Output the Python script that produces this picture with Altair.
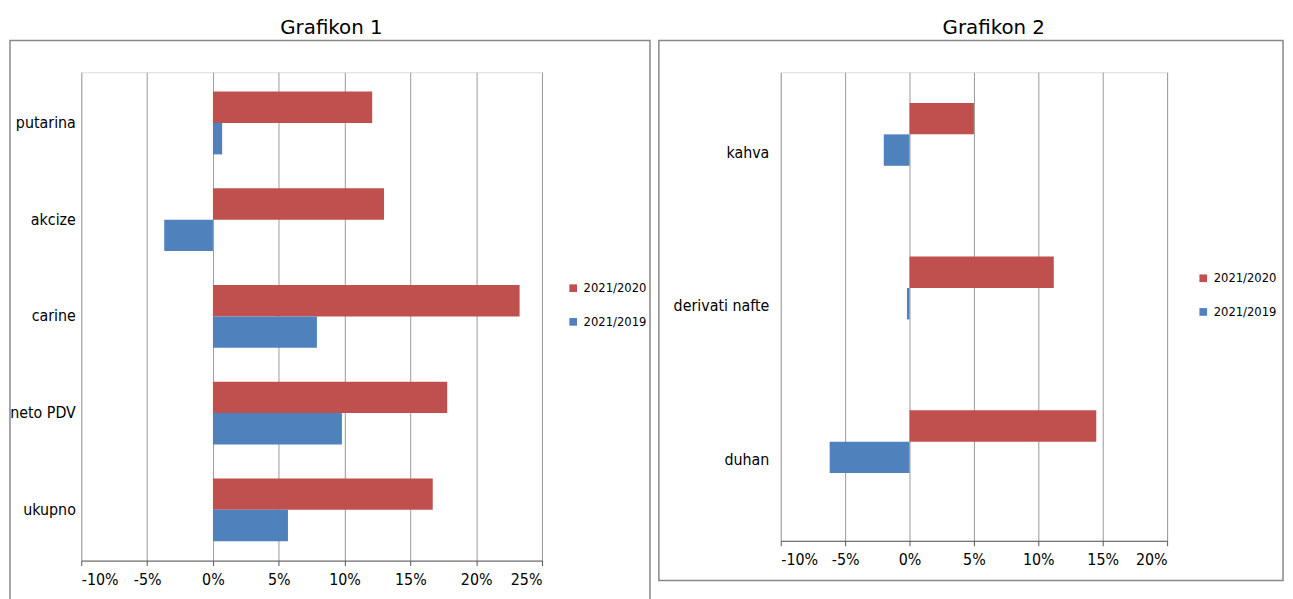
import altair as alt
import pandas as pd

series = ["2021/2020", "2021/2019"]
colors = ["#C0504D", "#4F81BD"]

cat1 = ["putarina", "akcize", "carine", "neto PDV", "ukupno"]
v1_2020 = [0.121, 0.130, 0.233, 0.178, 0.167]
v1_2019 = [0.007, -0.037, 0.079, 0.098, 0.057]

cat2 = ["kahva", "derivati nafte", "duhan"]
v2_2020 = [0.050, 0.112, 0.145]
v2_2019 = [-0.020, -0.002, -0.062]

def make_df(cats, a, b):
    rows = []
    for c, x, y in zip(cats, a, b):
        rows.append({"cat": c, "s": series[0], "v": x})
        rows.append({"cat": c, "s": series[1], "v": y})
    return pd.DataFrame(rows)

FONT = "DejaVu Sans Condensed"

def panel(df, cats, dom, w, h, title, legx, fx0, fx2, lp):
    n = int(round((dom[1] - dom[0]) / 0.05))
    base = alt.Chart(df).encode(
        y=alt.Y("cat:N", sort=cats, title=None,
                scale=alt.Scale(paddingInner=0.35, paddingOuter=0.2),
                axis=alt.Axis(labelFont=FONT, labelFontSize=16, labelColor="black",
                              domain=False, ticks=False, labelPadding=lp)),
    )
    bars = base.mark_bar().encode(
        x=alt.X("v:Q", title=None, scale=alt.Scale(domain=dom, nice=False),
                axis=alt.Axis(format=".0%", values=[round(dom[0] + 0.05*i, 2) for i in range(n+1)],
                              labelExpr="replace(datum.label, '\u2212', '-')",
                              labelOverlap=False,
                              labelFont=FONT, labelFontSize=16, labelColor="black",
                              grid=True, gridColor="#999999", domainColor="#555555",
                              tickColor="#555555", labelPadding=6)),
        yOffset=alt.YOffset("s:N", sort=series),
        color=alt.Color("s:N", sort=series,
                        scale=alt.Scale(domain=series, range=colors),
                        legend=alt.Legend(title=None, orient="none", legendX=legx, legendY=h/2-35,
                                          labelFont=FONT, labelFontSize=13, symbolType="square",
                                          symbolSize=60, rowPadding=20)),
    )
    frame = alt.Chart(pd.DataFrame({"a": [0]})).mark_rect(
        fill=None, stroke="#888888", strokeWidth=1.5
    ).encode(x=alt.value(fx0), x2=alt.value(fx2), y=alt.value(-32), y2=alt.value(h + 40))
    return alt.layer(bars, frame).properties(
        width=w, height=h,
        title=alt.TitleParams(title, font="DejaVu Sans", fontSize=20, fontWeight="normal",
                              offset=2, dx=20),
    )

p1 = panel(make_df(cat1, v1_2020, v1_2019), cat1, [-0.10, 0.25], 465, 493, "Grafikon 1", 490, -72, 574, 6)
p2 = panel(make_df(cat2, v2_2020, v2_2019), cat2, [-0.10, 0.20], 390, 473, "Grafikon 2", 420, -123, 507, 12)

chart = alt.hconcat(p1, p2, spacing=5).resolve_scale(color="independent").configure_view(
    stroke=None).configure(background="white", padding={"left": 0, "top": 6, "right": 0, "bottom": 0})

chart.save("out.html", embed_options={"renderer": "svg", "actions": False})
